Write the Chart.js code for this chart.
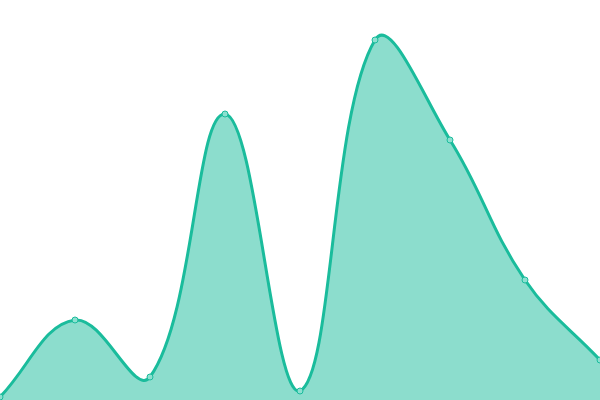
<!DOCTYPE html>
<html>
<head>
<meta charset="utf-8">
<script src="https://cdn.jsdelivr.net/npm/chart.js@4"></script>
<style>
  html, body { margin: 0; padding: 0; background: #fff; }
  #wrap { width: 600px; height: 400px; }
</style>
</head>
<body>
<div id="wrap"><canvas id="areaChart"></canvas></div>
<script>
// datos de la serie
var labels = ['1', '2', '3', '4', '5', '6', '7', '8', '9'];
var values = [3, 80, 23, 286, 9, 360, 260, 120, 40];

var ctx = document.getElementById('areaChart').getContext('2d');
var areaChart = new Chart(ctx, {
    type: 'line',
    data: {
        labels: labels,
        datasets: [{
            data: values,
            fill: true,
            tension: 0.4,
            borderColor: 'rgba(26, 188, 156, 1)',
            backgroundColor: 'rgba(26, 188, 156, 0.5)',
            borderWidth: 3,
            pointRadius: 3,
            pointBorderWidth: 1,
            pointBackgroundColor: 'rgba(140, 224, 208, 1)',
            pointBorderColor: 'rgba(26, 188, 156, 1)'
        }]
    },
    options: {
        responsive: true,
        maintainAspectRatio: false,
        animation: false,
        layout: { padding: 0, autoPadding: false },
        plugins: {
            legend: { display: false },
            tooltip: { enabled: false }
        },
        scales: {
            x: { display: false, offset: false },
            y: { display: false, min: 0, max: 400 }
        }
    }
});
</script>
</body>
</html>
